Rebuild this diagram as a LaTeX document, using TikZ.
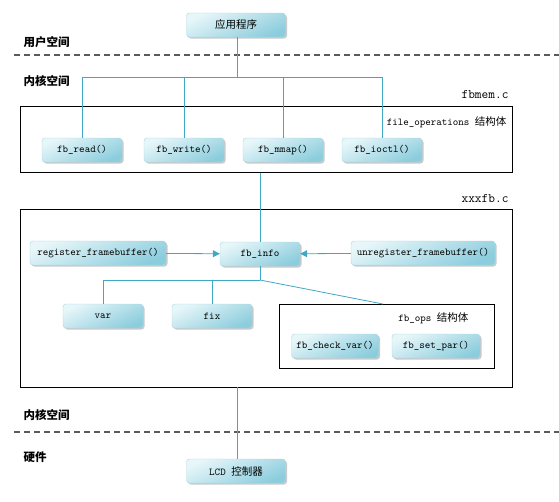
\documentclass[tikz,border=0pt]{standalone}
\usepackage{fontspec}
\newfontfamily\cjk{Noto Sans CJK SC}
\usepackage{tikz}
\usetikzlibrary{positioning}
\usetikzlibrary{shadows}
\usetikzlibrary{arrows.meta}

\definecolor{linkblue}{HTML}{3FA8C4}
\definecolor{nodedark}{HTML}{8CCDDD}
\definecolor{nodelight}{HTML}{E6F6F9}
\definecolor{nodeedge}{HTML}{A6D7E3}
\definecolor{splitgray}{HTML}{5A5A5A}

\begin{document}
\begin{tikzpicture}[x=1pt, y=-1pt,
   func/.style={rectangle, rounded corners=3pt, draw=nodeedge, top color=nodelight, bottom color=nodedark, shading angle=25,
      minimum width=80pt, minimum height=24pt, inner sep=1pt, font=\ttfamily\fontsize{10.5}{12}\selectfont,
      drop shadow={shadow xshift=1.5pt, shadow yshift=-1.5pt, opacity=0.35, fill=black!60}},
   filebox/.style={rectangle, draw=black, line width=0.8pt, inner sep=0pt},
   layer/.style={anchor=west, font=\cjk\bfseries\fontsize{11.5}{13}\selectfont},
   fname/.style={anchor=east, font=\ttfamily\fontsize{13}{15}\selectfont},
   conn/.style={draw=linkblue, line width=0.8pt},
   split/.style={draw=splitgray, line width=1.6pt, dash pattern=on 6pt off 4pt}]
	\useasboundingbox (0,0) rectangle (559,501);

	% user / kernel / hardware layers
	\node [layer] (user) at (20,42) {用户空间};
	\coordinate (s1a) at (14,55);
	\coordinate (s1b) at (559,55);
	\draw [split] (s1a) -- (s1b);
	\node [layer] (kern1) at (20,81) {内核空间};
	\node [layer] (kern2) at (20,415) {内核空间};
	\coordinate (s2a) at (14,432);
	\coordinate (s2b) at (559,432);
	\draw [split] (s2a) -- (s2b);
	\node [layer] (hw) at (20,457) {硬件};

	% application
	\node [func, minimum width=99pt, font=\cjk\fontsize{10.5}{12}\selectfont] (app) at (236,25) {应用程序};

	% fbmem.c
	\node [fname] (memname) at (512,95) {fbmem.c};
	\node [filebox, minimum width=492pt, minimum height=66pt] (membox) at (266,139.5) {};
	\node [anchor=east, font=\ttfamily\fontsize{10.5}{12}\selectfont] (fops) at (510,122) {file\_operations {\cjk 结构体}};
	\node [func] (read)  at (82,150)  {fb\_read()};
	\node [func] (write) at (184,150) {fb\_write()};
	\node [func] (mmap)  at (283,150) {fb\_mmap()};
	\node [func] (ioctl) at (382,150) {fb\_ioctl()};

	% xxxfb.c
	\node [fname] (drvname) at (512,199) {xxxfb.c};
	\node [filebox, minimum width=492pt, minimum height=178pt] (drvbox) at (266,298) {};
	\node [func, minimum width=136pt] (reg)   at (98,253)  {register\_framebuffer()};
	\node [func] (info)  at (260,254) {fb\_info};
	\node [func, minimum width=144pt] (unreg) at (423,253) {unregister\_framebuffer()};
	\node [func] (var)   at (103,316) {var};
	\node [func] (fix)   at (212,316) {fix};
	\node [filebox, minimum width=215pt, minimum height=64pt] (opsbox) at (386.5,336) {};
	\node [anchor=east, font=\ttfamily\fontsize{10.5}{12}\selectfont] (opsname) at (472,318) {fb\_ops {\cjk 结构体}};
	\node [func, minimum width=87pt] (check) at (335,346) {fb\_check\_var()};
	\node [func, minimum width=88pt] (setpar) at (436,346) {fb\_set\_par()};

	% hardware
	\node [func, minimum width=99pt, font=\ttfamily\fontsize{10.5}{12}\selectfont] (lcd) at (236,471) {LCD {\cjk 控制器}};

	% connectors
	\coordinate (appsplit) at (237,77);
	\draw [conn] (app.south -| appsplit) -- (appsplit);
	\foreach \to in {read,write,mmap,ioctl}
	  \draw [conn] (appsplit) -| (\to.north);

	\draw [conn] (membox.south -| info.north) -- (info.north);
	\draw [conn, -{Triangle[length=7pt, width=7pt]}] (reg) -- (info);
	\draw [conn, -{Triangle[length=7pt, width=7pt]}] (unreg) -- (info);

	\coordinate (infosplit) at (260,280);
	\coordinate (opsin) at (383,304);
	\draw [conn] (info.south) -- (infosplit);
	\foreach \to in {var,fix}
	  \draw [conn] (infosplit) -| (\to.north);
	\draw [conn] (infosplit) -- (opsin);

	\draw [conn] (drvbox.south -| appsplit) -- (lcd.north -| appsplit);
\end{tikzpicture}
\end{document}
